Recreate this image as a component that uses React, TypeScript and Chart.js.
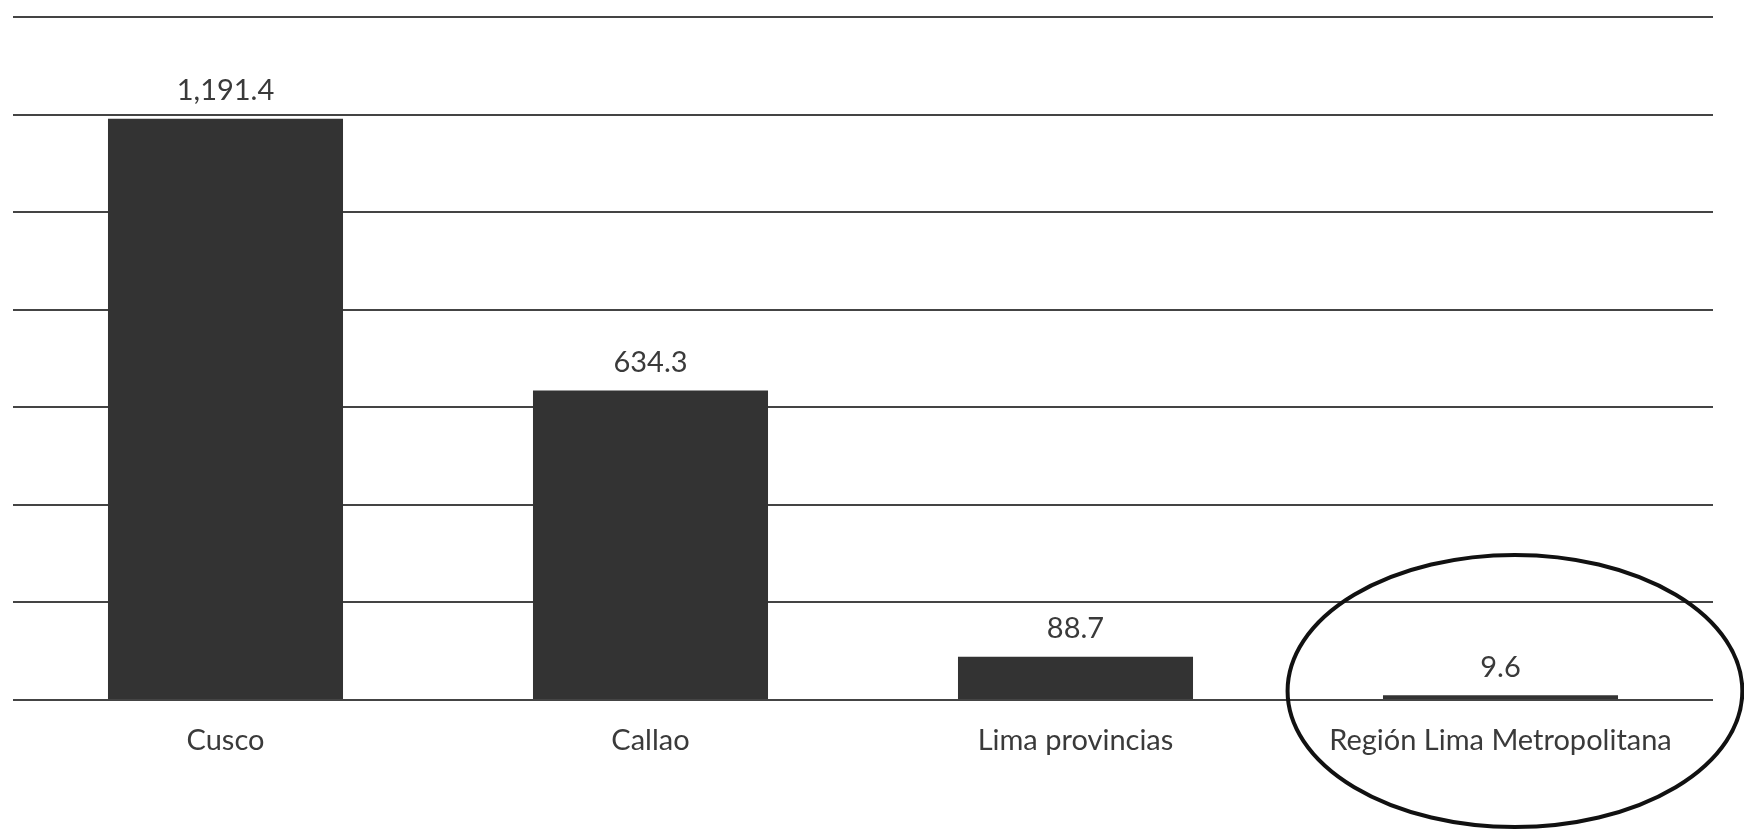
import React, { useEffect, useRef } from "react";
import { Chart, registerables } from "chart.js";

Chart.register(...registerables);

const categories: string[] = ["Cusco", "Callao", "Lima provincias", "Región Lima Metropolitana"];
const values: number[] = [1191.4, 634.3, 88.7, 9.6];
const yTicks: number[] = [0, 200, 400, 600, 800, 1000, 1200, 1400];
const highlightedIndex = 3;

const FONT = "Lato, 'Open Sans', sans-serif";

const valueLabels = {
  id: "valueLabels",
  afterDatasetsDraw(chart: any) {
    const ctx = chart.ctx;
    const meta = chart.getDatasetMeta(0);
    ctx.save();
    ctx.font = `29px ${FONT}`;
    ctx.fillStyle = "#3a3a3a";
    ctx.textAlign = "center";
    ctx.textBaseline = "middle";
    meta.data.forEach((bar: any, i: number) => {
      const v = values[i];
      const txt = v.toLocaleString("en-US", { minimumFractionDigits: 1, maximumFractionDigits: 1 });
      ctx.fillText(txt, bar.x, bar.y - 28);
    });
    ctx.restore();
  },
};

const ellipseMark = {
  id: "ellipseMark",
  afterDraw(chart: any) {
    const ctx = chart.ctx;
    const xs = chart.scales.x;
    const ys = chart.scales.y;
    const cat = (xs.right - xs.left) / categories.length;
    const cx = xs.getPixelForValue(highlightedIndex) + cat * 0.034;
    const cy = ys.getPixelForValue(0) - 9;
    ctx.save();
    ctx.beginPath();
    ctx.ellipse(cx, cy, cat * 0.535, 136, 0, 0, Math.PI * 2);
    ctx.lineWidth = 4;
    ctx.strokeStyle = "#111";
    ctx.stroke();
    ctx.restore();
  },
};

export default function App() {
  const ref = useRef<HTMLCanvasElement | null>(null);
  useEffect(() => {
    if (!ref.current) return;
    const chart = new Chart(ref.current, {
      type: "bar",
      data: {
        labels: categories,
        datasets: [
          {
            data: values,
            backgroundColor: "#333333",
            borderWidth: 0,
            barPercentage: 0.553,
            categoryPercentage: 1,
          },
        ],
      },
      options: {
        animation: false,
        responsive: true,
        maintainAspectRatio: false,
        layout: { padding: { left: 13, right: 31, top: 17, bottom: 0 } },
        plugins: { legend: { display: false }, tooltip: { enabled: false } },
        scales: {
          x: {
            grid: { display: false, drawTicks: false },
            border: { display: false },
            ticks: { font: { family: FONT, size: 29 }, color: "#3a3a3a", padding: 23, maxRotation: 0 },
            afterFit: (axis: any) => {
              axis.height = 129;
            },
          },
          y: {
            min: yTicks[0],
            max: yTicks[yTicks.length - 1],
            afterBuildTicks: (axis: any) => {
              axis.ticks = yTicks.map((v) => ({ value: v }));
            },
            afterFit: (axis: any) => {
              axis.width = 0;
            },
            grid: { color: "#444444", lineWidth: 2, drawTicks: false },
            border: { display: false },
            ticks: { display: false },
          },
        },
      },
      plugins: [valueLabels, ellipseMark],
    });
    return () => chart.destroy();
  }, []);
  return (
    <div style={{ position: "absolute", left: 0, top: 0, width: 1744, height: 829, background: "#fff" }}>
      <canvas ref={ref} />
    </div>
  );
}
